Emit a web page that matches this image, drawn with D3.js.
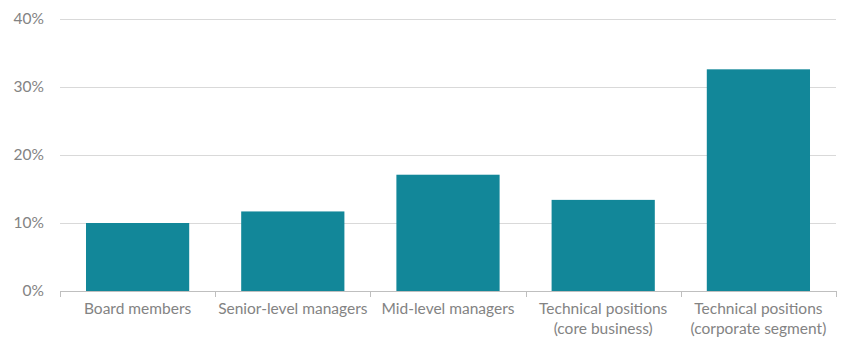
<!DOCTYPE html>
<html>
<head>
<meta charset="utf-8">
<script src="https://cdn.jsdelivr.net/npm/d3@7"></script>
<style>
  html, body { margin: 0; padding: 0; background: #fff; }
  svg { display: block; font-family: Lato, "Open Sans", sans-serif; }
</style>
</head>
<body>
<svg id="chart" width="850" height="348"></svg>
<script>
// Share by position group (percent)
const categories = [
  ["Board members"],
  ["Senior-level managers"],
  ["Mid-level managers"],
  ["Technical positions", "(core business)"],
  ["Technical positions", "(corporate segment)"]
];
const values = [10.0, 11.7, 17.1, 13.4, 32.6];
const yTicks = [0, 10, 20, 30, 40];

const svg = d3.select("#chart");
const margin = { left: 60, right: 14, top: 19, bottom: 57 };
const width = 850, height = 348;
const labelFont = "Lato, 'Open Sans', sans-serif";
const labelSize = "15.5px";
const labelColor = "#838383";

const x = d3.scaleBand()
  .domain(d3.range(categories.length))
  .range([margin.left, width - margin.right])
  .paddingInner(0.335)
  .paddingOuter(0.1675);

const y = d3.scaleLinear()
  .domain([0, 40])
  .range([height - margin.bottom, margin.top]);

// Horizontal gridlines with percent labels
const yAxis = d3.axisLeft(y)
  .tickValues(yTicks)
  .tickSize(-(width - margin.right - margin.left))
  .tickFormat(d => d + "%")
  .tickPadding(16);

const gy = svg.append("g")
  .attr("transform", `translate(${margin.left},0)`)
  .call(yAxis);
gy.select(".domain").remove();
gy.selectAll(".tick line").attr("stroke", "#d9d9d9").attr("stroke-width", 1);
gy.selectAll(".tick text")
  .attr("fill", labelColor)
  .style("font-size", labelSize)
  .style("font-family", labelFont);

// Bars
svg.append("g")
  .selectAll("rect")
  .data(values)
  .join("rect")
  .attr("x", (d, i) => x(i))
  .attr("y", d => y(d))
  .attr("width", x.bandwidth())
  .attr("height", d => y(0) - y(d))
  .attr("fill", "#128799");

// Category axis: baseline with dividers between groups
const x0 = margin.left, x1 = width - margin.right, yb = y(0);
const step = x.step();
const gx = svg.append("g");
gx.append("line")
  .attr("x1", x0).attr("x2", x1)
  .attr("y1", yb + 0.5).attr("y2", yb + 0.5)
  .attr("stroke", "#bfbfbf");
gx.selectAll("line.div")
  .data(d3.range(categories.length + 1))
  .join("line")
  .attr("class", "div")
  .attr("x1", i => Math.round(x0 + i * step) + 0.5)
  .attr("x2", i => Math.round(x0 + i * step) + 0.5)
  .attr("y1", yb)
  .attr("y2", yb + 6)
  .attr("stroke", "#bfbfbf");

gx.selectAll("text")
  .data(categories)
  .join("text")
  .attr("x", (d, i) => x(i) + x.bandwidth() / 2)
  .attr("y", yb + 23)
  .attr("text-anchor", "middle")
  .attr("fill", labelColor)
  .style("font-size", labelSize)
  .style("font-family", labelFont)
  .each(function (lines) {
    d3.select(this).selectAll("tspan")
      .data(lines)
      .join("tspan")
      .attr("x", d3.select(this).attr("x"))
      .attr("dy", (l, j) => j === 0 ? 0 : 20)
      .text(l => l);
  });
</script>
</body>
</html>
